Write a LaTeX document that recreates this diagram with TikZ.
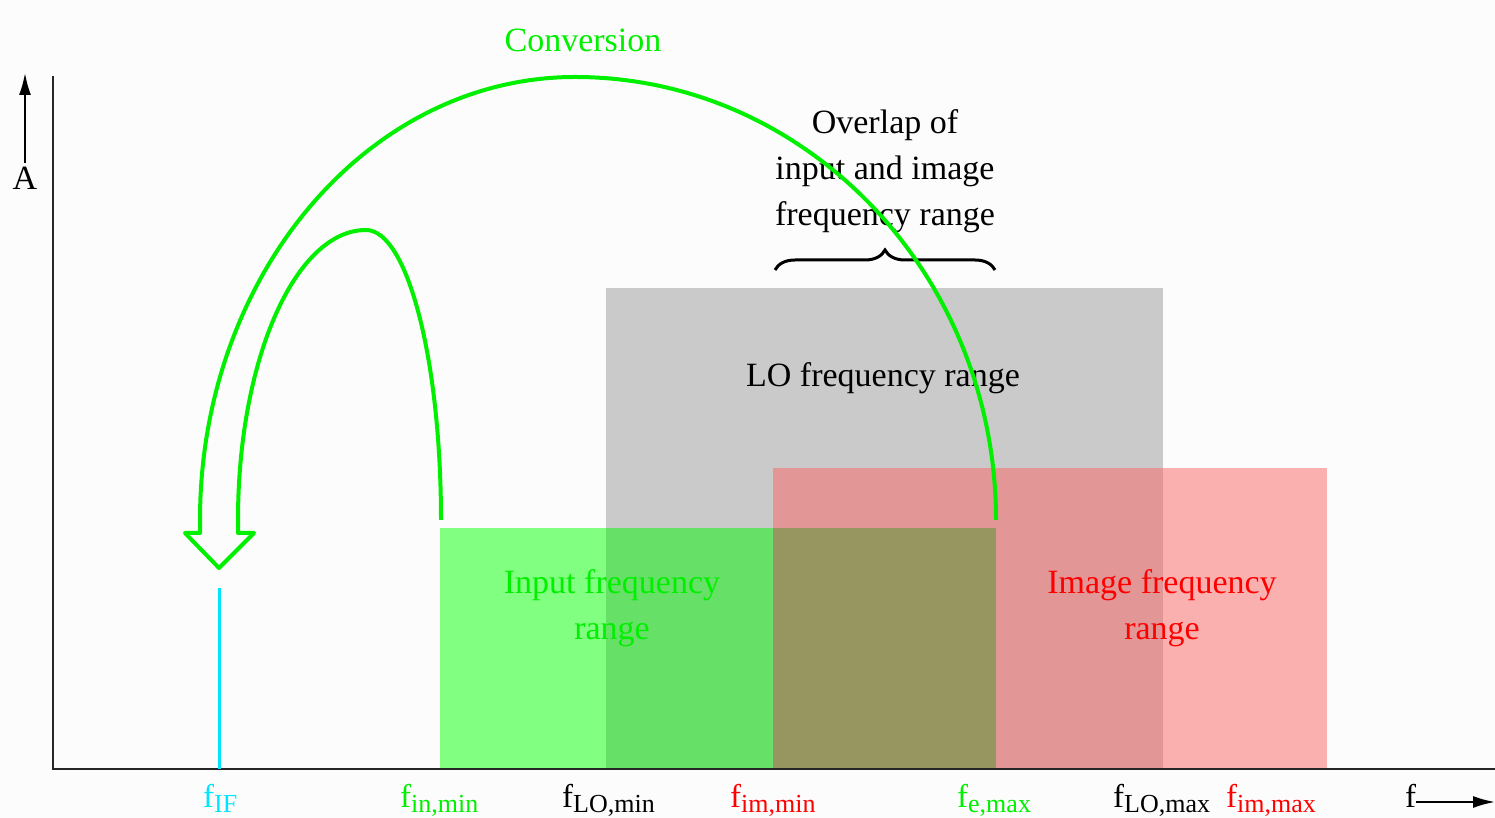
\documentclass[tikz,border=0pt]{standalone}
\usepackage{fontspec}
\setmainfont{Liberation Serif}
\usetikzlibrary{arrows.meta,decorations.pathreplacing}
\definecolor{lograng}{HTML}{CACACA}
\definecolor{imgrang}{HTML}{FBB0B0}
\definecolor{imglo}{HTML}{E29696}
\definecolor{inrang}{HTML}{80FF80}
\definecolor{inlo}{HTML}{66E066}
\definecolor{inimg}{HTML}{979660}
\definecolor{ifcyan}{HTML}{00E5FF}
\definecolor{convgreen}{HTML}{00F000}
\tikzset{
  font=\fontsize{34pt}{46pt}\selectfont
}
\newcommand{\fsub}[1]{f\raisebox{-5pt}{\fontsize{26pt}{26pt}\selectfont #1}}

\begin{document}
\begin{tikzpicture}[x=1pt,y=1pt,
  axis/.style={draw=black!85,line width=2.5pt},
  freq/.style={anchor=base west,inner sep=0pt,font=\fontsize{33pt}{33pt}\selectfont},
  conv/.style={draw=convgreen,line width=4pt,line join=round},
  tip/.style={line width=2pt,-{Latex[length=22pt,width=12pt]}}]
\useasboundingbox (0,0) rectangle (1495,818);
\fill[white!99!black] (0,0) rectangle (1495,818);
% frequency ranges
\fill[lograng] (606,49) rectangle (1163,530);
\fill[imglo] (773,49) rectangle (1163,350);
\fill[imgrang] (1163,49) rectangle (1327,350);
\fill[inrang] (440,49) rectangle (606,290);
\fill[inlo] (606,49) rectangle (773,290);
\fill[inimg] (773,49) rectangle (996,290);
\node (lo) at (883,440) {LO frequency range};
\node[align=center,text=convgreen] (input) at (612,210) {Input frequency\\range};
\node[align=center,text=red] (image) at (1162,210) {Image frequency\\range};
% axes
\coordinate (origin) at (53,49);
\draw[axis] (53,742) -- (origin) -- (1495,49);
\node (amp) at (25,640) {A};
\coordinate (atip) at (25,745);
\draw[tip] (amp) -- (atip);
\node[freq] (f) at (1405,10) {f};
\coordinate (ftip) at (1495,16);
\draw[tip] (f.east |- ftip) -- (ftip);
% IF line
\coordinate (ifbase) at (219,49);
\draw[ifcyan,line width=3pt] (219,230) -- (ifbase);
% labels on the f axis
\node[freq,text=ifcyan] (fif) at (203,10) {\fsub{IF}};
\node[freq,text=convgreen] (finmin) at (400,10) {\fsub{in,min}};
\node[freq] (flomin) at (562,10) {\fsub{LO,min}};
\node[freq,text=red] (fimmin) at (730,10) {\fsub{im,min}};
\node[freq,text=convgreen] (femax) at (957,10) {\fsub{e,max}};
\node[freq] (flomax) at (1113,10) {\fsub{LO,max}};
\node[freq,text=red] (fimmax) at (1226,10) {\fsub{im,max}};
% overlap
\node[align=center] (overlap) at (885,647) {Overlap of\\input and image\\frequency range};
\draw[decorate,decoration={brace,amplitude=20pt},line width=3pt] (775,548) -- (995,548);
% conversion arrow
\draw[conv] (996,298) arc[start angle=0,end angle=90,x radius=421,y radius=443]
  arc[start angle=90,end angle=180,x radius=375,y radius=443]
  -- (200,285) -- (185,285) -- (219,250) -- (254,285) -- (238,285) -- (238,298)
  arc[start angle=180,end angle=90,x radius=128,y radius=290]
  arc[start angle=90,end angle=0,x radius=75,y radius=290];
\node[text=convgreen] (conv) at (583,778) {Conversion};
\end{tikzpicture}
\end{document}
